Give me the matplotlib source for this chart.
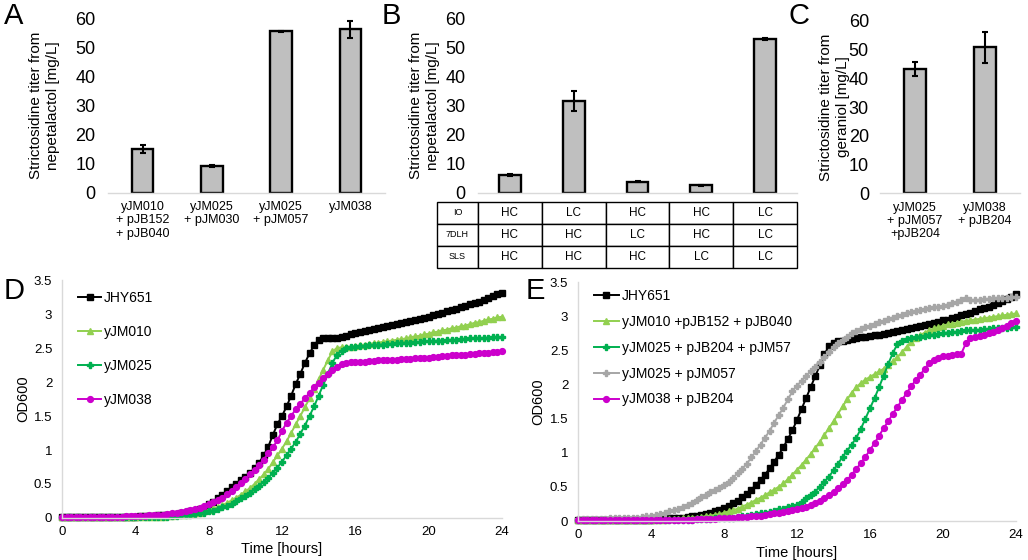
import numpy as np
import matplotlib
matplotlib.use("Agg")
import matplotlib.pyplot as plt

plt.rcParams['font.family'] = ['Liberation Sans', 'DejaVu Sans']

# ---------------- bar data ----------------
a_labels = ["yJM010\n+ pJB152\n+ pJB040", "yJM025\n+ pJM030", "yJM025\n+ pJM057", "yJM038"]
a_vals = [15.0, 9.2, 55.6, 56.2]
a_err = [1.5, 0.3, 0.2, 3.0]

b_vals = [6.1, 31.5, 3.8, 2.5, 52.8]
b_err = [0.4, 3.4, 0.25, 0.15, 0.3]
table_rows = ["IO", "7DLH", "SLS"]
table_cells = [["HC", "LC", "HC", "HC", "LC"],
               ["HC", "HC", "LC", "HC", "LC"],
               ["HC", "HC", "HC", "LC", "LC"]]

c_labels = ["yJM025\n+ pJM057\n+pJB204", "yJM038\n+ pJB204"]
c_vals = [43.2, 50.8]
c_err = [2.4, 5.4]

bar_yticks = [0, 10, 20, 30, 40, 50, 60]

# ---------------- growth data (every 15 min, 0-24 h) ----------------
time_h = np.linspace(0, 24, 97)
growth_xticks = [0, 4, 8, 12, 16, 20, 24]
growth_yticks = [0, 0.5, 1, 1.5, 2, 2.5, 3, 3.5]
growth_yticklabels = ["0", "0.5", "1", "1.5", "2", "2.5", "3", "3.5"]

d_JHY651 = [0.02, 0.02, 0.02, 0.02, 0.02, 0.02, 0.02, 0.02, 0.02, 0.02, 0.02, 0.02, 0.02, 0.02, 0.02, 0.02,
            0.02, 0.03, 0.03, 0.03, 0.03, 0.04, 0.04, 0.05, 0.05, 0.06, 0.07, 0.08, 0.10, 0.11, 0.13, 0.15,
            0.20, 0.24, 0.29, 0.34, 0.39, 0.45, 0.50, 0.56, 0.61, 0.66, 0.73, 0.81, 0.92, 1.05, 1.22, 1.38,
            1.50, 1.64, 1.80, 1.97, 2.12, 2.28, 2.42, 2.54, 2.62, 2.64, 2.64, 2.65, 2.65, 2.66, 2.68, 2.70,
            2.72, 2.73, 2.75, 2.76, 2.78, 2.79, 2.81, 2.82, 2.84, 2.85, 2.87, 2.88, 2.90, 2.91, 2.93, 2.94,
            2.96, 2.98, 3.00, 3.02, 3.04, 3.06, 3.08, 3.10, 3.12, 3.14, 3.16, 3.18, 3.20, 3.23, 3.26, 3.30,
            3.31]
d_yJM010 = [0.01, 0.01, 0.01, 0.01, 0.01, 0.01, 0.01, 0.01, 0.01, 0.01, 0.01, 0.01, 0.01, 0.01, 0.01, 0.01,
            0.01, 0.01, 0.01, 0.02, 0.02, 0.02, 0.02, 0.03, 0.03, 0.04, 0.04, 0.05, 0.06, 0.07, 0.08, 0.10,
            0.12, 0.14, 0.16, 0.19, 0.22, 0.26, 0.30, 0.34, 0.39, 0.44, 0.50, 0.57, 0.64, 0.72, 0.82, 0.92,
            1.02, 1.13, 1.25, 1.38, 1.50, 1.63, 1.76, 1.90, 2.04, 2.18, 2.32, 2.45, 2.50, 2.51, 2.52, 2.52,
            2.53, 2.54, 2.55, 2.56, 2.57, 2.58, 2.59, 2.60, 2.61, 2.62, 2.63, 2.64, 2.66, 2.67, 2.68, 2.70,
            2.71, 2.73, 2.74, 2.76, 2.77, 2.79, 2.80, 2.82, 2.83, 2.85, 2.87, 2.88, 2.90, 2.92, 2.93, 2.95,
            2.96]
d_yJM025 = [0.01, 0.01, 0.01, 0.01, 0.01, 0.01, 0.01, 0.01, 0.01, 0.01, 0.01, 0.01, 0.01, 0.01, 0.01, 0.01,
            0.01, 0.01, 0.01, 0.01, 0.02, 0.02, 0.02, 0.02, 0.03, 0.03, 0.04, 0.04, 0.05, 0.06, 0.07, 0.08,
            0.10, 0.11, 0.13, 0.16, 0.18, 0.21, 0.25, 0.29, 0.33, 0.37, 0.42, 0.47, 0.53, 0.59, 0.66, 0.74,
            0.83, 0.92, 1.02, 1.12, 1.24, 1.36, 1.50, 1.64, 1.80, 1.96, 2.12, 2.28, 2.40, 2.46, 2.50, 2.51,
            2.52, 2.53, 2.53, 2.54, 2.54, 2.55, 2.55, 2.56, 2.56, 2.57, 2.57, 2.58, 2.58, 2.59, 2.59, 2.60,
            2.60, 2.60, 2.61, 2.61, 2.62, 2.62, 2.62, 2.63, 2.63, 2.64, 2.64, 2.64, 2.65, 2.65, 2.66, 2.66,
            2.66]
d_yJM038 = [0.02, 0.02, 0.02, 0.02, 0.02, 0.02, 0.02, 0.02, 0.02, 0.02, 0.02, 0.02, 0.02, 0.02, 0.03, 0.03,
            0.03, 0.03, 0.03, 0.04, 0.04, 0.05, 0.05, 0.06, 0.07, 0.08, 0.09, 0.10, 0.12, 0.13, 0.15, 0.17,
            0.20, 0.23, 0.26, 0.30, 0.35, 0.40, 0.46, 0.52, 0.58, 0.64, 0.71, 0.78, 0.86, 0.95, 1.04, 1.14,
            1.28, 1.40, 1.50, 1.60, 1.68, 1.76, 1.84, 1.92, 1.99, 2.06, 2.12, 2.18, 2.22, 2.26, 2.28, 2.29,
            2.30, 2.30, 2.30, 2.31, 2.31, 2.32, 2.32, 2.33, 2.33, 2.33, 2.34, 2.34, 2.34, 2.35, 2.35, 2.36,
            2.36, 2.37, 2.37, 2.38, 2.38, 2.39, 2.39, 2.40, 2.40, 2.41, 2.41, 2.42, 2.42, 2.43, 2.44, 2.44,
            2.45]

e_JHY651 = [0.02, 0.02, 0.02, 0.02, 0.02, 0.02, 0.02, 0.02, 0.02, 0.02, 0.02, 0.02, 0.02, 0.02, 0.02, 0.02,
            0.02, 0.03, 0.03, 0.03, 0.04, 0.04, 0.05, 0.05, 0.06, 0.07, 0.08, 0.09, 0.10, 0.12, 0.14, 0.16,
            0.19, 0.22, 0.26, 0.30, 0.35, 0.40, 0.46, 0.53, 0.60, 0.68, 0.77, 0.87, 0.97, 1.08, 1.20, 1.33,
            1.48, 1.64, 1.80, 1.96, 2.12, 2.28, 2.44, 2.56, 2.60, 2.63, 2.64, 2.65, 2.67, 2.68, 2.69, 2.70,
            2.71, 2.72, 2.73, 2.74, 2.76, 2.77, 2.78, 2.79, 2.81, 2.82, 2.84, 2.85, 2.87, 2.89, 2.90, 2.92,
            2.94, 2.95, 2.97, 2.99, 3.01, 3.03, 3.05, 3.07, 3.10, 3.12, 3.14, 3.17, 3.19, 3.22, 3.25, 3.28,
            3.32]
e_yJM010 = [0.02, 0.02, 0.02, 0.02, 0.02, 0.02, 0.02, 0.02, 0.02, 0.02, 0.02, 0.02, 0.02, 0.02, 0.02, 0.02,
            0.02, 0.02, 0.02, 0.02, 0.03, 0.03, 0.03, 0.04, 0.04, 0.05, 0.05, 0.06, 0.07, 0.08, 0.09, 0.10,
            0.12, 0.14, 0.16, 0.18, 0.21, 0.24, 0.27, 0.31, 0.34, 0.38, 0.42, 0.46, 0.50, 0.55, 0.61, 0.68,
            0.75, 0.82, 0.90, 0.98, 1.07, 1.16, 1.26, 1.36, 1.46, 1.57, 1.68, 1.78, 1.88, 1.96, 2.02, 2.07,
            2.11, 2.15, 2.19, 2.23, 2.28, 2.34, 2.40, 2.47, 2.55, 2.62, 2.68, 2.72, 2.76, 2.79, 2.82, 2.84,
            2.86, 2.88, 2.89, 2.90, 2.92, 2.93, 2.94, 2.95, 2.96, 2.97, 2.98, 2.99, 3.00, 3.01, 3.02, 3.03,
            3.04]
e_yJM025 = [0.02, 0.02, 0.02, 0.02, 0.02, 0.02, 0.02, 0.02, 0.02, 0.02, 0.02, 0.02, 0.02, 0.02, 0.02, 0.02,
            0.02, 0.02, 0.02, 0.02, 0.02, 0.02, 0.02, 0.02, 0.02, 0.02, 0.03, 0.03, 0.03, 0.03, 0.04, 0.04,
            0.04, 0.05, 0.05, 0.06, 0.07, 0.08, 0.09, 0.10, 0.11, 0.12, 0.13, 0.15, 0.17, 0.18, 0.20, 0.22,
            0.24, 0.28, 0.33, 0.38, 0.43, 0.50, 0.57, 0.65, 0.74, 0.84, 0.94, 1.03, 1.12, 1.22, 1.35, 1.50,
            1.65, 1.80, 1.96, 2.13, 2.30, 2.46, 2.59, 2.64, 2.66, 2.68, 2.69, 2.70, 2.71, 2.72, 2.73, 2.74,
            2.75, 2.76, 2.77, 2.77, 2.78, 2.79, 2.79, 2.80, 2.80, 2.81, 2.81, 2.82, 2.82, 2.83, 2.83, 2.84,
            2.84]
e_yJM025b = [0.03, 0.03, 0.03, 0.03, 0.03, 0.03, 0.03, 0.04, 0.04, 0.04, 0.04, 0.05, 0.05, 0.05, 0.06, 0.07,
             0.08, 0.09, 0.10, 0.12, 0.14, 0.16, 0.18, 0.21, 0.24, 0.27, 0.31, 0.35, 0.38, 0.42, 0.45, 0.49,
             0.52, 0.57, 0.63, 0.70, 0.76, 0.84, 0.93, 1.02, 1.12, 1.22, 1.32, 1.44, 1.55, 1.66, 1.78, 1.90,
             1.98, 2.05, 2.12, 2.19, 2.26, 2.33, 2.40, 2.47, 2.55, 2.60, 2.65, 2.70, 2.75, 2.78, 2.81, 2.84,
             2.86, 2.89, 2.91, 2.93, 2.96, 2.98, 3.00, 3.02, 3.04, 3.06, 3.07, 3.09, 3.10, 3.12, 3.13, 3.14,
             3.15, 3.17, 3.19, 3.21, 3.23, 3.26, 3.24, 3.23, 3.24, 3.25, 3.25, 3.26, 3.26, 3.27, 3.27, 3.28,
             3.28]
e_yJM038 = [0.02, 0.02, 0.02, 0.02, 0.02, 0.02, 0.02, 0.02, 0.02, 0.02, 0.02, 0.02, 0.02, 0.02, 0.02, 0.02,
            0.02, 0.02, 0.02, 0.02, 0.02, 0.02, 0.02, 0.02, 0.02, 0.02, 0.03, 0.03, 0.03, 0.03, 0.03, 0.04,
            0.04, 0.05, 0.05, 0.06, 0.06, 0.06, 0.07, 0.08, 0.08, 0.09, 0.10, 0.11, 0.12, 0.13, 0.14, 0.16,
            0.17, 0.19, 0.21, 0.24, 0.27, 0.30, 0.34, 0.38, 0.43, 0.48, 0.54, 0.60, 0.68, 0.76, 0.85, 0.94,
            1.04, 1.14, 1.25, 1.36, 1.46, 1.57, 1.67, 1.77, 1.87, 1.97, 2.06, 2.14, 2.23, 2.31, 2.36, 2.39,
            2.41, 2.42, 2.43, 2.44, 2.45, 2.60, 2.68, 2.70, 2.71, 2.73, 2.75, 2.77, 2.80, 2.83, 2.86, 2.90,
            2.93]

# ---------------- styling ----------------
W, H = 1028, 560
fig = plt.figure(figsize=(W / 100, H / 100), dpi=100)
AXIS_GRAY = "#D9D9D9"
BAR_FACE = "#BFBFBF"


def fax(x0, y0, x1, y1):
    """pixel box (top-left origin) -> figure axes"""
    return fig.add_axes([x0 / W, 1 - y1 / H, (x1 - x0) / W, (y1 - y0) / H])


def style_bar_axes(ax, n, labels, ylabel, ylab_x, ypad):
    ax.set_xlim(-0.5, n - 0.5)
    ax.set_ylim(0, 60)
    ax.set_yticks(bar_yticks)
    ax.tick_params(axis='y', length=0, labelsize=13, pad=ypad)
    for s in ['top', 'right', 'left']:
        ax.spines[s].set_visible(False)
    ax.spines['bottom'].set_color(AXIS_GRAY)
    ax.spines['bottom'].set_linewidth(1.0)
    ax.set_xticks(range(n))
    if labels is None:
        ax.set_xticklabels([])
        ax.tick_params(axis='x', length=0)
    else:
        ax.set_xticklabels(labels, fontsize=9, linespacing=1.15)
        ax.tick_params(axis='x', length=0, pad=6)
    ax.set_ylabel(ylabel, fontsize=11, linespacing=1.3)
    ax.yaxis.set_label_coords(ylab_x, 0.5)


def draw_bars(ax, vals, errs, width):
    ax.bar(range(len(vals)), vals, width=width, color=BAR_FACE, edgecolor='black', linewidth=1.7, zorder=2)
    ax.errorbar(range(len(vals)), vals, yerr=errs, fmt='none', ecolor='black', elinewidth=1.5,
                capsize=2.5, capthick=1.5, zorder=3)


# Panel A
axA = fax(108, 18.3, 385, 192.7)
draw_bars(axA, a_vals, a_err, 0.31)
style_bar_axes(axA, 4, a_labels, "Strictosidine titer from\nnepetalactol [mg/L]", -0.173, 9)

# Panel B
axB = fax(478, 18.3, 797, 192.7)
draw_bars(axB, b_vals, b_err, 0.34)
style_bar_axes(axB, 5, None, "Strictosidine titer from\nnepetalactol [mg/L]", -0.119, 9)

axT = fax(437, 201.7, 797, 268)
axT.axis('off')
cell_text = [[r] + c for r, c in zip(table_rows, table_cells)]
col_w = [41 / 360] + [63.8 / 360] * 5
tbl = axT.table(cellText=cell_text, colWidths=col_w, bbox=[0, 0, 1, 1], cellLoc='center')
tbl.auto_set_font_size(False)
for (r, c), cell in tbl.get_celld().items():
    cell.set_linewidth(1.0)
    cell.set_edgecolor('black')
    cell.get_text().set_fontsize(6.5 if c == 0 else 8.5)

# Panel C
axC = fax(880, 20.7, 1020, 193.3)
draw_bars(axC, c_vals, c_err, 0.32)
style_bar_axes(axC, 2, c_labels, "Strictosidine titer from\ngeraniol [mg/L]", -0.214, 8)

# ---------------- growth panels ----------------
series_style = {
    'black': dict(color='black', marker='s', ms=4.0),
    'lgreen': dict(color='#92D050', marker='^', ms=4.0),
    'dgreen': dict(color='#00B050', marker='P', ms=4.2),
    'gray': dict(color='#A6A6A6', marker='P', ms=4.2),
    'magenta': dict(color='#CC00CC', marker='o', ms=4.2),
}


def style_growth(ax):
    ax.set_xlim(0, 24)
    ax.set_ylim(0, 3.5)
    ax.set_xticks(growth_xticks)
    ax.set_yticks(growth_yticks)
    ax.set_yticklabels(growth_yticklabels)
    ax.tick_params(axis='both', length=0, labelsize=9.5)
    ax.tick_params(axis='y', pad=7)
    ax.tick_params(axis='x', pad=6)
    for s in ['top', 'right']:
        ax.spines[s].set_visible(False)
    for s in ['left', 'bottom']:
        ax.spines[s].set_color(AXIS_GRAY)
        ax.spines[s].set_linewidth(1.0)
    ax.set_xlabel("Time [hours]", fontsize=10.5, labelpad=3)
    ax.set_ylabel("OD600", fontsize=10.5)


axD = fax(62, 280, 502, 518)
for lab, ys, st in [("JHY651", d_JHY651, 'black'), ("yJM010", d_yJM010, 'lgreen'),
                    ("yJM025", d_yJM025, 'dgreen'), ("yJM038", d_yJM038, 'magenta')]:
    axD.plot(time_h, ys, lw=1.4, label=lab, clip_on=False, **series_style[st])
style_growth(axD)
axD.yaxis.set_label_coords(-0.073, 0.5)
axD.legend(loc='upper left', bbox_to_anchor=(0.036, 0.955), frameon=False, fontsize=10,
           handlelength=1.7, handletextpad=0.2, labelspacing=1.45, borderpad=0, borderaxespad=0)

axE = fax(578, 282, 1016, 521)
for lab, ys, st in [("JHY651", e_JHY651, 'black'), ("yJM010 +pJB152 + pJB040", e_yJM010, 'lgreen'),
                    ("yJM025 + pJB204 + pJM57", e_yJM025, 'dgreen'), ("yJM025 + pJM057", e_yJM025b, 'gray'),
                    ("yJM038 + pJB204", e_yJM038, 'magenta')]:
    axE.plot(time_h, ys, lw=1.4, label=lab, clip_on=False, **series_style[st])
style_growth(axE)
axE.yaxis.set_label_coords(-0.075, 0.5)
axE.legend(loc='upper left', bbox_to_anchor=(0.036, 0.97), frameon=False, fontsize=10,
           handlelength=1.8, handletextpad=0.2, labelspacing=0.85, borderpad=0, borderaxespad=0)

# panel letters
for letter, x, y in [("A", 4, 24), ("B", 382, 24), ("C", 788, 24), ("D", 4, 299), ("E", 526, 299)]:
    fig.text(x / W, 1 - y / H, letter, fontsize=21, va='baseline', ha='left')

fig.savefig("out.png", dpi=100)
